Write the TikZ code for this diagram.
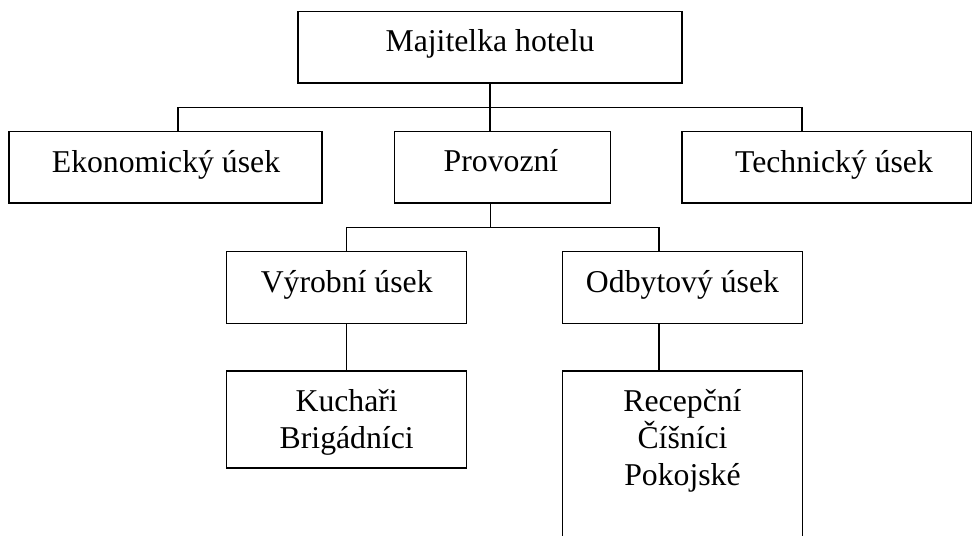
\documentclass[tikz,border=0pt]{standalone}
\usepackage{fontspec}
\setmainfont{Liberation Serif}
\begin{document}
\begin{tikzpicture}[x=0.75pt,y=-0.75pt,
  box/.style={draw=black,line width=1pt,inner sep=0pt,fill=none},
  txt/.style={inner sep=0pt,anchor=base,font=\fontsize{23.8}{27.4}\selectfont},
  conn/.style={draw=black,line width=0.8pt}]
\useasboundingbox[fill=white] (0,0) rectangle (973,535);
% boxes
\node[box,minimum width={384*0.75pt},minimum height={71.3*0.75pt}] (top) at (490,47.35) {};
\node[box,minimum width={313*0.75pt},minimum height={71.3*0.75pt}] (ekon) at (165.5,167.35) {};
\node[box,minimum width={216*0.75pt},minimum height={71.3*0.75pt}] (prov) at (502.5,167.35) {};
\node[box,minimum width={289.5*0.75pt},minimum height={71.3*0.75pt}] (tech) at (826.75,167.35) {};
\node[box,minimum width={240*0.75pt},minimum height={71.6*0.75pt}] (vyr) at (346.7,287.5) {};
\node[box,minimum width={240.4*0.75pt},minimum height={71.6*0.75pt}] (odb) at (682.5,287.5) {};
\node[box,minimum width={240*0.75pt},minimum height={97*0.75pt}] (kuch) at (346.7,419.5) {};
\node[box,minimum width={240.4*0.75pt},minimum height={174*0.75pt}] (rec) at (682.5,458) {};
% texts
\node[txt] (ttop) at (490,51.7) {Majitelka hotelu};
\node[txt] (tekon) at (166,172.3) {Ekonomický úsek};
\node[txt] (tprov) at (501,171.7) {Provozní};
\node[txt] (ttech) at (834,172) {Technický úsek};
\node[txt] (tvyr) at (346.7,292.6) {Výrobní úsek};
\node[txt] (todb) at (682.5,292.6) {Odbytový úsek};
\node[txt] (tk1) at (346.7,411.7) {Kuchaři};
\node[txt] (tk2) at (346.7,448) {Brigádníci};
\node[txt] (tr1) at (682.5,411.7) {Recepční};
\node[txt] (tr2) at (682.5,448) {Číšníci};
\node[txt] (tr3) at (682.5,485) {Pokojské};
% junction coordinates
\coordinate (busL) at (178,107.7);
\coordinate (busR) at (802,107.7);
\coordinate (pj) at (490.7,227.7);
\coordinate (odbj) at (659,227.7);
% connectors
\draw[conn] (top.south) -- (top.south |- prov.north);
\draw[conn] (busL |- ekon.north) -- (busL) -- (busR) -- (busR |- tech.north);
\draw[conn] (pj |- prov.south) -- (pj);
\draw[conn] (vyr.north) -- (vyr.north |- pj) -- (odbj) -- (odbj |- odb.north);
\draw[conn] (vyr.south) -- (kuch.north);
\draw[conn] (odbj |- odb.south) -- (odbj |- rec.north);
\end{tikzpicture}
\end{document}
